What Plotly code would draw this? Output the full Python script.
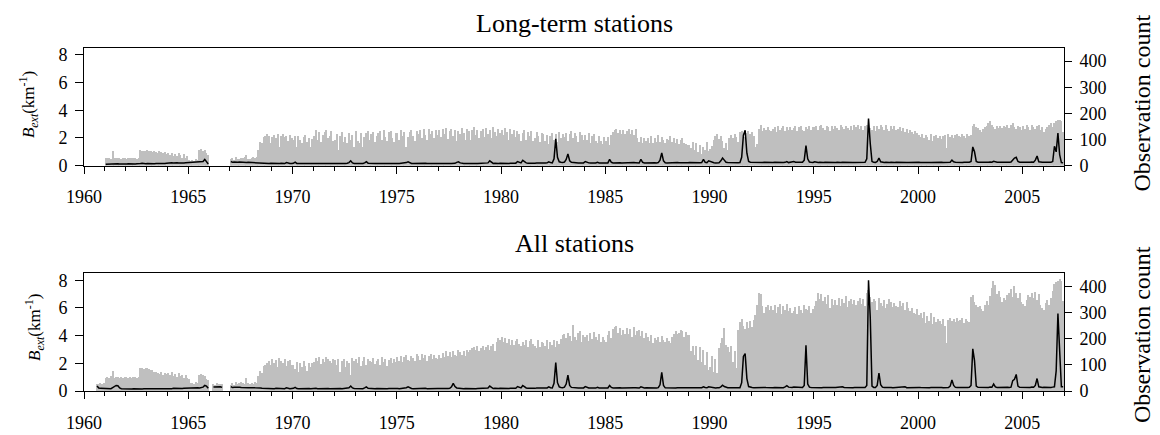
import plotly.graph_objects as go

N = None
YEARS = list(range(1960, 2007))

# Observation counts, long-term stations (one row per year, Jan..Dec)
LT_COUNT = [
    [N]*12,
    [28,30,29,27,57,28,30,29,28,27,30,28],
    [27,29,28,30,29,28,27,30,58,56,57,55],
    [58,57,55,52,56,54,50,55,53,48,52,45],
    [48,40,50,38,45,36,48,42,30,44,28,36],
    [22,18,20,16,25,20,58,62,55,60,48,40],
    [N]*12,
    [25,28,22,32,26,24,28,30,35,42,27,24],
    [28,32,30,35,60,92,85,108,115,120,112,88],
    [110,118,105,122,70,115,120,108,112,95,118,104],
    [98,112,72,115,100,86,108,118,90,106,70,102],
    [112,135,100,128,92,118,130,136,104,114,132,96],
    [98,122,60,112,128,90,110,85,126,100,118,70],
    [134,96,88,124,72,110,126,132,98,120,128,92],
    [112,126,134,100,136,108,96,128,134,104,90,124],
    [126,100,138,112,130,70,108,128,136,114,96,132],
    [122,136,104,140,118,98,142,120,134,106,138,116],
    [136,108,140,120,144,102,134,142,112,138,96,132],
    [120,144,126,100,140,132,98,138,146,118,136,106],
    [134,142,110,144,122,138,104,146,130,112,140,124],
    [138,116,144,128,100,140,122,138,108,134,120,96],
    [124,136,98,130,112,132,94,104,128,114,92,126],
    [120,96,118,84,114,124,100,122,92,128,104,120],
    [108,124,96,120,132,104,126,112,90,128,116,100],
    [118,100,124,88,114,120,96,86,112,94,84,108],
    [94,110,80,118,130,136,142,124,138,120,136,122],
    [134,140,122,136,118,140,104,92,110,88,104,94],
    [104,88,114,86,106,92,116,90,110,100,86,102],
    [98,112,92,106,88,102,84,98,104,88,82,78],
    [78,66,92,58,86,52,80,46,72,60,90,56],
    [64,76,98,112,120,102,114,96,68,86,58,104],
    [118,104,122,110,92,128,134,116,108,126,132,120],
    [130,112,70,84,142,156,132,144,136,148,138,134],
    [142,146,128,150,136,144,152,132,146,138,148,136],
    [144,150,134,146,152,138,132,148,140,150,136,146],
    [148,152,138,150,154,144,136,152,146,134,150,142],
    [152,144,136,154,146,140,152,144,138,150,136,154],
    [146,154,142,152,138,150,156,148,144,136,150,134],
    [152,142,156,146,136,154,142,134,152,140,150,136],
    [140,148,134,144,130,142,124,138,130,120,132,126],
    [118,110,122,104,116,108,100,120,96,112,116,106],
    [114,102,112,116,66,120,110,118,104,116,122,112],
    [110,120,114,106,122,114,118,152,158,146,144,138],
    [130,142,146,152,162,172,154,146,140,152,144,150],
    [144,152,146,154,144,156,162,148,142,152,146,138],
    [152,142,154,146,136,156,148,140,150,154,136,146],
    [128,142,146,156,162,148,164,170,174,176,172,130],
]

# B_ext (km^-1), long-term stations
LT_B = [
    [N]*12,
    [.10,.11,.12,.12,.11,.13,.12,.13,.12,.11,.13,.12],
    [.12,.13,.12,.14,.13,.12,.14,.13,.16,.18,.15,.14],
    [.15,.14,.16,.15,.14,.16,.15,.14,.15,.16,.15,.17],
    [.20,.22,.21,.20,.22,.21,.19,.21,.22,.20,.21,.22],
    [.21,.20,.22,.21,.23,.24,.26,.27,.30,.45,.32,.12],
    [N]*12,
    [.30,.24,.26,.28,.25,.26,.24,.23,.25,.22,.24,.23],
    [.24,.23,.25,.22,.21,.20,.19,.18,.17,.18,.16,.17],
    [.16,.17,.15,.16,.15,.17,.16,.15,.22,.16,.15,.16],
    [.17,.25,.16,.15,.16,.15,.17,.16,.15,.16,.15,.17],
    [.15,.16,.15,.17,.16,.15,.16,.15,.16,.17,.15,.16],
    [.16,.15,.17,.16,.15,.16,.15,.17,.22,.35,.20,.16],
    [.15,.16,.17,.16,.15,.20,.28,.18,.16,.15,.16,.15],
    [.16,.15,.16,.17,.15,.16,.15,.16,.17,.15,.16,.15],
    [.16,.15,.17,.16,.18,.22,.28,.19,.16,.15,.16,.15],
    [.15,.16,.15,.16,.17,.15,.16,.15,.16,.15,.17,.16],
    [.16,.15,.16,.15,.17,.16,.15,.16,.15,.17,.24,.28],
    [.20,.16,.15,.16,.15,.16,.17,.15,.16,.15,.16,.17],
    [.16,.15,.17,.16,.20,.35,.22,.16,.17,.15,.16,.18],
    [.17,.16,.18,.17,.16,.18,.17,.19,.18,.30,.24,.20],
    [.38,.26,.20,.18,.17,.19,.18,.17,.19,.18,.17,.19],
    [.18,.19,.20,.28,.22,.20,.50,1.93,.60,.28,.24,.22],
    [.26,.45,.85,.35,.24,.22,.21,.20,.19,.20,.21,.20],
    [.30,.22,.20,.19,.21,.20,.19,.24,.20,.19,.20,.19],
    [.21,.20,.45,.24,.20,.21,.19,.20,.21,.19,.20,.21],
    [.20,.19,.21,.20,.22,.21,.20,.19,.45,.24,.20,.21],
    [.20,.21,.19,.20,.21,.20,.22,.40,.92,.35,.21,.20],
    [.21,.20,.19,.21,.20,.22,.21,.20,.19,.21,.20,.21],
    [.22,.21,.20,.21,.22,.20,.21,.22,.45,.24,.21,.35],
    [.30,.22,.21,.20,.22,.21,.35,.55,.40,.24,.22,.21],
    [.22,.21,.23,.22,.21,.22,.60,2.20,2.55,.90,.30,.25],
    [.24,.22,.23,.22,.24,.23,.22,.24,.23,.22,.24,.23],
    [.22,.24,.23,.22,.24,.23,.22,.24,.30,.22,.24,.23],
    [.30,.25,.24,.23,.25,.24,.40,1.45,.50,.26,.24,.23],
    [.28,.24,.23,.24,.22,.23,.24,.23,.24,.22,.23,.24],
    [.23,.24,.22,.23,.24,.23,.22,.24,.23,.24,.22,.23],
    [.24,.23,.24,.22,.23,.24,.50,3.40,1.60,.30,.24,.23],
    [.30,.55,.28,.24,.23,.24,.22,.23,.24,.22,.23,.24],
    [.23,.24,.22,.23,.24,.22,.23,.24,.23,.22,.24,.23],
    [.24,.23,.22,.24,.23,.24,.22,.23,.24,.23,.22,.24],
    [.23,.24,.22,.23,.24,.23,.25,.40,.28,.24,.23,.24],
    [.24,.23,.25,.24,.23,.25,.30,1.35,1.00,.30,.25,.24],
    [.25,.24,.23,.25,.24,.26,.25,.32,.25,.24,.25,.24],
    [.25,.24,.26,.25,.24,.26,.45,.55,.60,.30,.25,.24],
    [.25,.24,.26,.25,.24,.26,.25,.40,.70,.28,.25,.24],
    [.25,.24,.26,.25,.24,.30,1.40,1.00,2.35,.80,.22,.20],
]

# Observation counts, all stations
ALL_COUNT = [
    [N,N,N,N,N,N,N,27,25,28,26,29],
    [50,52,48,55,76,50,53,51,49,52,50,54],
    [52,50,54,49,53,51,50,52,86,88,84,87],
    [85,82,80,78,72,70,68,65,72,60,68,62],
    [66,58,70,55,62,52,68,56,60,50,58,48],
    [45,30,28,25,32,28,58,62,60,55,45,40],
    [N,N,25,22,28,24,25,26,N,N,N,N],
    [22,28,20,32,25,30,35,28,24,50,30,26],
    [28,25,32,30,55,75,68,95,99,105,112,98],
    [121,106,118,92,125,112,104,120,94,112,118,100],
    [100,82,110,70,106,92,112,96,74,106,90,104],
    [108,126,112,128,102,122,110,128,120,112,104,122],
    [116,98,122,72,112,120,92,114,106,60,124,114],
    [120,104,127,94,114,128,100,122,112,108,126,102],
    [114,120,100,128,108,122,96,117,124,104,120,110],
    [127,114,132,108,130,137,116,112,134,124,114,140],
    [132,118,142,124,137,114,134,140,122,136,126,120],
    [138,124,144,130,152,134,147,128,150,138,132,154],
    [147,136,152,134,157,146,154,162,167,154,172,152],
    [164,172,155,167,174,157,170,177,152,187,202,193],
    [205,186,200,182,197,176,194,174,190,198,178,172],
    [187,174,194,166,190,198,178,171,164,192,168,188],
    [182,171,192,161,187,174,194,166,190,178,198,212],
    [217,201,222,208,191,250,204,194,220,227,188,212],
    [207,214,191,220,196,226,206,194,216,186,207,192],
    [188,212,230,202,237,242,248,222,240,211,232,216],
    [240,218,237,206,244,214,228,232,208,227,201,220],
    [204,191,212,184,202,192,207,188,210,194,186,202],
    [191,184,207,217,230,218,220,232,227,206,226,214],
    [214,150,172,138,170,118,167,108,157,98,147,80],
    [90,132,73,122,68,162,182,202,240,173,167,148],
    [172,108,152,88,232,262,273,248,236,262,238,267],
    [243,272,288,326,375,368,322,298,320,327,308,324],
    [308,327,298,320,332,293,324,310,330,303,318,298],
    [303,320,294,322,308,298,327,313,310,324,296,314],
    [324,342,375,350,370,343,360,333,364,318,350,328],
    [347,328,354,324,350,336,362,320,342,352,330,347],
    [326,342,354,333,350,324,374,385,358,338,352,343],
    [308,354,334,323,347,316,332,350,338,320,337,324],
    [320,342,323,334,308,340,318,303,317,298,293,312],
    [290,298,276,302,260,287,268,297,256,282,263,274],
    [267,256,274,248,184,272,278,266,274,263,276,268],
    [270,277,260,274,268,263,357,364,338,328,320,323],
    [314,306,327,342,328,362,394,419,403,370,382,358],
    [338,354,346,367,372,387,358,400,373,353,374,338],
    [330,323,347,367,358,374,353,377,346,370,328,318],
    [308,337,347,328,354,380,407,415,420,427,418,343],
]

# B_ext (km^-1), all stations
ALL_B = [
    [N,N,N,N,N,N,N,.36,.22,.19,.18,.19],
    [.18,.17,.18,.17,.25,.35,.40,.38,.22,.17,.16,.17],
    [.16,.15,.16,.15,.16,.15,.14,.15,.16,.15,.16,.15],
    [.16,.15,.16,.17,.16,.15,.16,.15,.16,.17,.16,.15],
    [.17,.18,.17,.19,.18,.17,.19,.20,.18,.19,.20,.19],
    [.20,.21,.19,.22,.21,.23,.22,.25,.28,.40,.35,.20],
    [N,N,.28,.30,.27,.29,.31,.26,N,N,N,N],
    [.32,.25,.27,.28,.26,.27,.25,.26,.24,.25,.24,.23],
    [.25,.24,.23,.24,.22,.21,.20,.19,.18,.19,.18,.17],
    [.18,.17,.19,.18,.17,.18,.19,.17,.24,.18,.17,.18],
    [.19,.26,.18,.17,.18,.19,.18,.17,.19,.18,.17,.19],
    [.18,.19,.17,.18,.19,.18,.17,.19,.18,.17,.18,.19],
    [.18,.17,.19,.18,.17,.18,.19,.18,.24,.36,.22,.18],
    [.17,.18,.19,.18,.17,.22,.30,.20,.18,.17,.18,.17],
    [.18,.17,.18,.19,.17,.18,.17,.18,.19,.17,.18,.17],
    [.18,.17,.19,.18,.20,.24,.30,.21,.18,.17,.18,.17],
    [.17,.18,.17,.18,.19,.17,.18,.17,.18,.17,.19,.18],
    [.18,.17,.18,.17,.19,.18,.20,.30,.55,.32,.22,.20],
    [.20,.18,.17,.18,.17,.18,.19,.17,.18,.17,.18,.19],
    [.18,.17,.19,.18,.22,.36,.24,.18,.19,.17,.18,.20],
    [.19,.18,.20,.19,.18,.20,.19,.21,.20,.32,.26,.22],
    [.40,.28,.22,.20,.19,.21,.20,.19,.21,.20,.19,.21],
    [.20,.21,.22,.30,.24,.22,.55,2.05,.60,.30,.26,.24],
    [.28,.50,1.15,.40,.26,.24,.23,.22,.21,.22,.23,.22],
    [.32,.24,.22,.21,.23,.22,.21,.26,.22,.21,.22,.21],
    [.23,.22,.40,.26,.22,.23,.21,.22,.23,.21,.22,.23],
    [.22,.21,.23,.22,.24,.23,.22,.21,.30,.24,.22,.23],
    [.22,.23,.21,.22,.23,.22,.24,.45,1.35,.40,.23,.22],
    [.23,.22,.21,.23,.22,.24,.23,.22,.21,.23,.22,.23],
    [.24,.23,.22,.23,.24,.22,.23,.24,.30,.25,.23,.30],
    [.28,.24,.23,.22,.24,.23,.30,.42,.32,.25,.24,.23],
    [.24,.23,.25,.24,.23,.24,.60,2.50,2.70,.90,.32,.27],
    [.26,.24,.25,.24,.26,.25,.24,.26,.25,.24,.26,.25],
    [.24,.26,.25,.24,.26,.25,.24,.30,.38,.28,.26,.25],
    [.28,.27,.26,.25,.27,.26,.40,3.30,.50,.28,.26,.25],
    [.28,.26,.25,.26,.24,.25,.26,.25,.26,.24,.25,.26],
    [.25,.26,.24,.25,.30,.25,.24,.26,.25,.26,.24,.25],
    [.26,.25,.26,.24,.25,.26,.40,8.00,5.30,.35,.26,.25],
    [.40,1.30,.45,.28,.25,.26,.24,.25,.26,.24,.25,.26],
    [.25,.26,.24,.25,.30,.24,.25,.26,.25,.24,.26,.25],
    [.26,.25,.24,.26,.25,.26,.24,.25,.26,.25,.24,.26],
    [.25,.26,.24,.25,.26,.25,.35,.80,.40,.26,.25,.26],
    [.26,.25,.27,.26,.25,.27,.40,3.05,2.20,.35,.27,.26],
    [.27,.26,.25,.27,.26,.28,.27,.50,.30,.26,.27,.26],
    [.27,.26,.28,.27,.26,.28,.75,.85,1.20,.35,.27,.26],
    [.27,.26,.28,.27,.26,.28,.27,.40,.90,.30,.27,.26],
    [.27,.26,.28,.27,.26,.28,.30,1.45,5.60,2.90,.30,.30],
]

X_TICKS = [1960, 1965, 1970, 1975, 1980, 1985, 1990, 1995, 2000, 2005]
LEFT_TICKS = [0, 2, 4, 6, 8]
RIGHT_TICKS = [0, 100, 200, 300, 400]
TITLES = ["Long-term stations", "All stations"]

# monthly time coordinate (decimal year at mid-month)
xs = [y + (m + 0.5) / 12.0 for y in YEARS for m in range(12)]


def flat(rows):
    return [v for r in rows for v in r]


FONT = "Liberation Serif, Times New Roman, serif"
BAR_COLOR = "#bfbfbf"

fig = go.Figure()
panels = [(LT_COUNT, LT_B, "x", "y", "y2"), (ALL_COUNT, ALL_B, "x2", "y3", "y4")]
for counts, bvals, xa, ya_bar, ya_line in panels:
    fig.add_trace(go.Bar(x=xs, y=flat(counts), xaxis=xa, yaxis=ya_bar,
                         marker=dict(color=BAR_COLOR, line=dict(width=0)),
                         width=0.062, hoverinfo="skip"))
    fig.add_trace(go.Scatter(x=xs, y=flat(bvals), xaxis=xa, yaxis=ya_line,
                             mode="lines", connectgaps=False,
                             line=dict(color="black", width=1.5), hoverinfo="skip"))

tickfont = dict(family=FONT, size=18, color="black")
common = dict(showline=True, linecolor="black", linewidth=1, showgrid=False,
              zeroline=False, ticks="outside", tickcolor="black", tickwidth=1,
              tickfont=tickfont, automargin=False)


def xax(anchor, standoff):
    return dict(common, anchor=anchor, domain=[0, 1], range=[1960, 2007],
                tickmode="array", tickvals=X_TICKS, ticklen=7, mirror=True,
                ticklabelstandoff=standoff,
                minor=dict(ticks="outside", ticklen=4, dtick=1, tick0=1960,
                           tickcolor="black", tickwidth=1, showgrid=False))


def yright(domain, anchor):
    return dict(common, domain=domain, anchor=anchor, side="right", range=[0, 450],
                tickmode="array", tickvals=RIGHT_TICKS, ticklen=7, ticklabelstandoff=4)


def yleft(over, anchor):
    return dict(common, overlaying=over, anchor=anchor, side="left", range=[0, 8.5],
                tickmode="array", tickvals=LEFT_TICKS, ticklen=8, ticklabelstandoff=4)


TOP = [0.657, 1.0]
BOT = [0.0, 0.343]

# page body has an 8px margin: figure is shrunk by 8px so the plot area lands
# at the same pixel positions as the reference
fig.update_layout(
    width=1152, height=427,
    margin=dict(l=76, r=96, t=40, b=44),
    paper_bgcolor="white", plot_bgcolor="white",
    showlegend=False, bargap=0,
    xaxis=xax("y", 8), yaxis=yright(TOP, "x"), yaxis2=yleft("y", "x"),
    xaxis2=xax("y3", 8), yaxis3=yright(BOT, "x2"), yaxis4=yleft("y3", "x2"),
)

ann = []
for text, yc in zip(TITLES, [1.072, 0.431]):
    ann.append(dict(text=text, xref="paper", yref="paper", x=0.5, y=yc,
                    xanchor="center", yanchor="middle", showarrow=False,
                    font=dict(family=FONT, size=26, color="black")))
ylab = "<i>B</i><sub><i>ext</i></sub>(km<sup>-1</sup>)"
for xc, yc in [(-0.056, 0.834), (-0.050, 0.184)]:
    ann.append(dict(text=ylab, xref="paper", yref="paper", x=xc, y=yc,
                    xanchor="center", yanchor="middle", textangle=-90, showarrow=False,
                    font=dict(family=FONT, size=17, color="black")))
for yc in [0.838, 0.163]:
    ann.append(dict(text="Observation count", xref="paper", yref="paper", x=1.0796, y=yc,
                    xanchor="center", yanchor="middle", textangle=-90, showarrow=False,
                    font=dict(family=FONT, size=24, color="black")))
fig.update_layout(annotations=ann)

fig.write_html("out.html")
